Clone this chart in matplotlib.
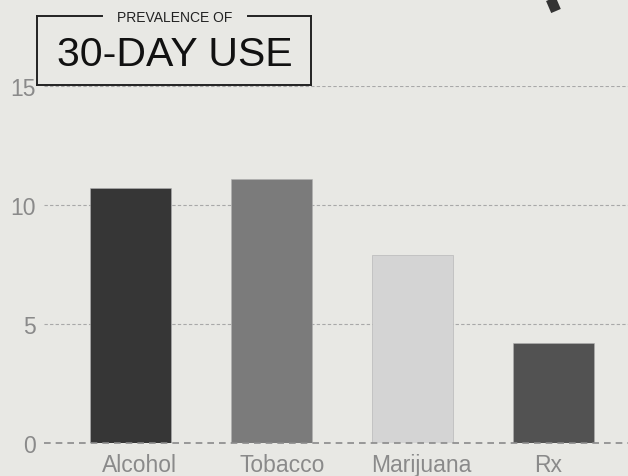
import matplotlib.pyplot as plt
from matplotlib.lines import Line2D

categories = ['Alcohol', 'Tobacco', 'Marijuana', 'Rx']
values = [10.7, 11.1, 7.9, 4.2]
bar_colors = ['#363636', '#7b7b7b', '#d4d4d4', '#525252']
y_ticks = [0, 5, 10, 15]
# the reference labels sit a little off the bar centres (pixels)
label_shift = [9.5, 10.5, 9, -5.5]

plt.rcParams['font.family'] = ['Liberation Sans', 'DejaVu Sans']

W, H = 628, 477
fig = plt.figure(figsize=(W / 100, H / 100), dpi=100)
fig.patch.set_facecolor('#e8e8e4')

# axes placed in pixel terms
left, right, top, bottom = 44, 628, 87, 444
ax = fig.add_axes([left / W, 1 - bottom / H, (right - left) / W, (bottom - top) / H])
ax.set_facecolor('none')

x = list(range(len(categories)))
ax.bar(x, values, width=0.575, color=bar_colors, edgecolor='#b0b0b0',
       linewidth=0.4, zorder=2)

ax.set_xlim(-0.613, 3.528)
ax.set_ylim(0, 15)
ax.set_yticks(y_ticks)
ax.set_xticks([])

# category labels, offset like the reference
for i, (cat, dx) in enumerate(zip(categories, label_shift)):
    ax.annotate(cat, xy=(i, 0), xycoords=('data', 'axes fraction'),
                xytext=(dx * 0.72, -7.5), textcoords='offset points',
                ha='center', va='top', fontsize=16.5, color='#8a8a8a',
                annotation_clip=False)

# gridlines
for t in y_ticks[1:]:
    ax.axhline(t, color='#a8a8a8', linewidth=0.8, linestyle=(0, (3, 2)), zorder=1)
ax.axhline(0, color='#8a8a8a', linewidth=1.2, linestyle=(0, (4, 3)), zorder=3,
           clip_on=False)

for s in ax.spines.values():
    s.set_visible(False)
ax.tick_params(axis='both', length=0, colors='#8a8a8a', labelsize=16.5)
ax.tick_params(axis='y', pad=6)

# title box with gap in top edge
bx0, bx1, by0, by1 = 37, 311, 17, 86
def fx(px):
    return px / W
def fy(py):
    return 1 - py / H
lc = '#222222'
lw = 1.4
fig.add_artist(Line2D([fx(bx0), fx(bx0)], [fy(by0), fy(by1)], color=lc, lw=lw))
fig.add_artist(Line2D([fx(bx1), fx(bx1)], [fy(by0), fy(by1)], color=lc, lw=lw))
fig.add_artist(Line2D([fx(bx0), fx(bx1)], [fy(by1), fy(by1)], color=lc, lw=lw))
fig.add_artist(Line2D([fx(bx0), fx(102)], [fy(by0), fy(by0)], color=lc, lw=lw))
fig.add_artist(Line2D([fx(248), fx(bx1)], [fy(by0), fy(by0)], color=lc, lw=lw))
fig.text(fx(175), fy(18), 'PREVALENCE OF', ha='center', va='center',
         fontsize=10, color='#222222')
fig.text(fx(175), fy(55.5), '30-DAY USE', ha='center', va='center',
         fontsize=29.5, color='#111111')

# brush mark in top-right corner
fig.add_artist(Line2D([fx(550), fx(556)], [fy(-2), fy(12)], color='#333333',
                      lw=7.5, solid_capstyle='butt'))

fig.savefig('out.png', dpi=100, facecolor=fig.get_facecolor())
